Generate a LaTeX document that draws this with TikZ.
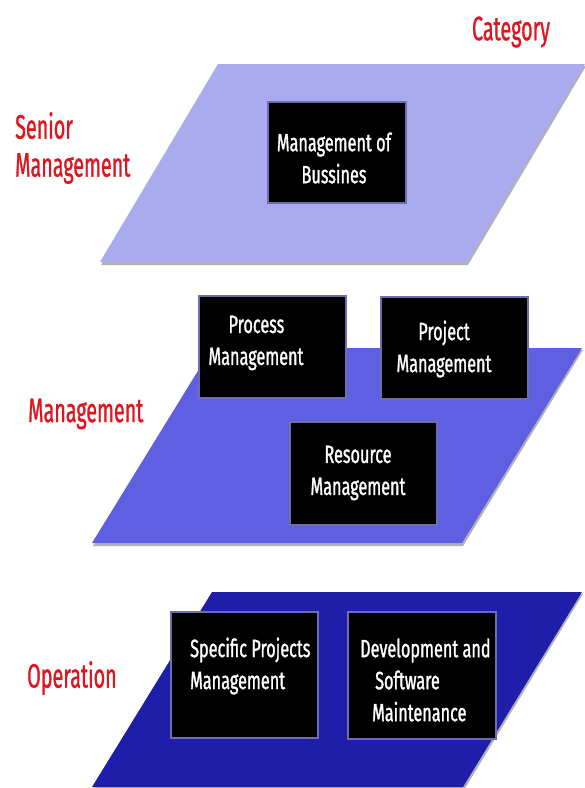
\documentclass[tikz,border=0pt]{standalone}
\usepackage{fontspec}
\setmainfont{Fira Sans}
\newfontfamily\labelfont{Fira Sans}[FakeStretch=0.58, FakeBold=0.8]
\newfontfamily\boxfont{Fira Sans}[FakeStretch=0.65, FakeBold=1.2]
\usepackage{xcolor}
\usepackage{tikz}

\definecolor{catred}{RGB}{222,20,30}
\definecolor{planetop}{RGB}{170,170,238}
\definecolor{planemid}{RGB}{95,95,225}
\definecolor{planelow}{RGB}{30,30,170}
\definecolor{boxedge}{RGB}{110,110,175}

\tikzset{
  planeshadow/.style={fill=gray!60},
  blkbox/.style={fill=black, draw=boxedge, line width=1.2pt},
  boxtxt/.style={text=white, font=\boxfont\fontsize{25}{32}\selectfont, align=center, inner sep=0pt},
  cattxt/.style={text=catred, font=\labelfont\fontsize{34}{38}\selectfont, align=left, inner sep=0pt}
}

\begin{document}
\begin{tikzpicture}[x=1pt,y=-1pt]

    \useasboundingbox (0,0) rectangle (585,788);
    \fill[white] (0,0) rectangle (585,788);

    % the three levels
    \fill[planeshadow] (219,66) -- (586,66) -- (468,265) -- (101,265) -- cycle;
    \fill[planetop] (218,64) -- (585,64) -- (467,262) -- (100,262) -- cycle;

    \fill[planeshadow] (213,350) -- (583,350) -- (463,546) -- (93,546) -- cycle;
    \fill[planemid] (212,348) -- (582,348) -- (462,543) -- (92,543) -- cycle;

    \fill[planeshadow] (213,594) -- (583,594) -- (464,790) -- (93,790) -- cycle;
    \fill[planelow] (212,592) -- (582,592) -- (463,787) -- (92,787) -- cycle;

    % level names
    \node[cattxt] (cat) at (511,32) {Category};
    \node[cattxt, anchor=west] (senior) at (15,148) {Senior\\Management};
    \node[cattxt, anchor=west] (mgmt) at (28,414) {Management};
    \node[cattxt, anchor=west] (oper) at (27,678) {Operation};

    % senior management
    \draw[blkbox] (268,102) rectangle (406,203);
    \node[boxtxt] (busi) at (334,158) {Management of\\Bussines};

    % management
    \draw[blkbox] (199,296) rectangle (346,398);
    \draw[blkbox] (381,297) rectangle (528,399);
    \draw[blkbox] (290,422) rectangle (437,525);
    \node[boxtxt, align=left] (proc) at (256,343) {\hspace*{20pt}Process\\Management};
    \node[boxtxt] (proj) at (444,349) {Project\\Management};
    \node[boxtxt] (reso) at (358,473) {Resource\\Management};

    % operation
    \draw[blkbox] (171,612) rectangle (318,738);
    \draw[blkbox] (348,612) rectangle (496,739);
    \node[boxtxt, align=left, anchor=west] (spec) at (190,666) {Specific Projects\\Management};
    \node[boxtxt, align=left, anchor=west] (devm) at (360,680) {Development and\\\hspace*{15pt}Software\\\hspace*{12pt}Maintenance};

\end{tikzpicture}
\end{document}
